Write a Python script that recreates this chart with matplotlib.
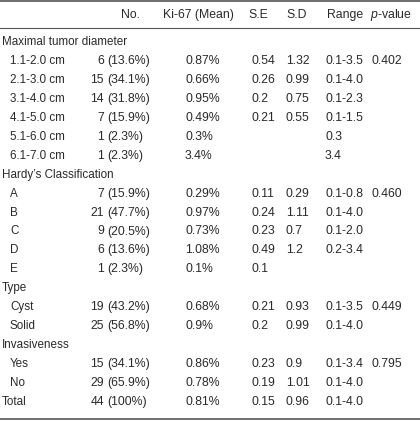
import matplotlib.pyplot as plt

# table rows
labels = ["Maximal tumor diameter", "1.1-2.0 cm", "2.1-3.0 cm", "3.1-4.0 cm", "4.1-5.0 cm",
          "5.1-6.0 cm", "6.1-7.0 cm", "Hardy\u2019s Classification", "A", "B", "C", "D", "E",
          "Type", "Cyst", "Solid", "Invasiveness", "Yes", "No", "Total"]
section = [True, False, False, False, False, False, False, True, False, False, False, False,
           False, True, False, False, True, False, False, True]
counts = ["", "6", "15", "14", "7", "1", "1", "", "7", "21", "9", "6", "1",
          "", "19", "25", "", "15", "29", "44"]
pcts = ["", "(13.6%)", "(34.1%)", "(31.8%)", "(15.9%)", "(2.3%)", "(2.3%)", "", "(15.9%)",
        "(47.7%)", "(20.5%)", "(13.6%)", "(2.3%)", "", "(43.2%)", "(56.8%)", "", "(34.1%)",
        "(65.9%)", "(100%)"]
means = ["", "0.87%", "0.66%", "0.95%", "0.49%", "0.3%", "3.4%", "", "0.29%", "0.97%", "0.73%",
         "1.08%", "0.1%", "", "0.68%", "0.9%", "", "0.86%", "0.78%", "0.81%"]
se = ["", "0.54", "0.26", "0.2", "0.21", "", "", "", "0.11", "0.24", "0.23", "0.49", "0.1",
      "", "0.21", "0.2", "", "0.23", "0.19", "0.15"]
sd = ["", "1.32", "0.99", "0.75", "0.55", "", "", "", "0.29", "1.11", "0.7", "1.2", "",
      "", "0.93", "0.99", "", "0.9", "1.01", "0.96"]
ranges = ["", "0.1-3.5", "0.1-4.0", "0.1-2.3", "0.1-1.5", "0.3", "3.4", "", "0.1-0.8", "0.1-4.0",
          "0.1-2.0", "0.2-3.4", "", "", "0.1-3.5", "0.1-4.0", "", "0.1-3.4", "0.1-4.0", "0.1-4.0"]
pvals = ["", "0.402", "", "", "", "", "", "", "0.460", "", "", "", "", "", "0.449", "", "",
         "0.795", "", ""]

plt.rcParams['font.family'] = ['Liberation Sans', 'DejaVu Sans']
plt.rcParams['mathtext.fontset'] = 'custom'
plt.rcParams['mathtext.it'] = 'Liberation Sans:italic'
plt.rcParams['mathtext.rm'] = 'Liberation Sans'
txt = "#2a2a2a"
fs = 8.8
fl = 8.4

fig = plt.figure(figsize=(4.2, 4.22), dpi=100)
ax = fig.add_axes([0, 0, 1, 1])
ax.set_xlim(0, 420)
ax.set_ylim(422, 0)
ax.axis('off')

# rules
ax.plot([0, 420], [1, 1], color="#555555", lw=1.2)
ax.plot([0, 420], [28, 28], color="#555555", lw=0.8)
ax.plot([0, 420], [419, 419], color="#555555", lw=1.2)

# header
hy = 15
ax.text(140, hy, "No.", ha='right', va='center', fontsize=fs, color=txt)
ax.text(163, hy, "Ki-67 (Mean)", ha='left', va='center', fontsize=fs, color=txt)
ax.text(248, hy, "S.E", ha='left', va='center', fontsize=fs, color=txt)
ax.text(286, hy, "S.D", ha='left', va='center', fontsize=fs, color=txt)
ax.text(327, hy, "Range", ha='left', va='center', fontsize=fs, color=txt)
ax.text(370, hy, r"$\it{p}$-value", ha='left', va='center', fontsize=fs, color=txt)

y0, dy = 42, 18.95
for i in range(len(labels)):
    y = y0 + i * dy
    x = 2 if section[i] else 10
    ax.text(x, y, labels[i], ha='left', va='center', fontsize=fl, color=txt)
    ax.text(104, y, counts[i], ha='right', va='center', fontsize=fs, color=txt)
    ax.text(107, y, pcts[i], ha='left', va='center', fontsize=fs, color=txt)
    ax.text(185, y, means[i], ha='left', va='center', fontsize=fs, color=txt)
    ax.text(252, y, se[i], ha='left', va='center', fontsize=fs, color=txt)
    ax.text(286, y, sd[i], ha='left', va='center', fontsize=fs, color=txt)
    ax.text(325, y, ranges[i], ha='left', va='center', fontsize=fs, color=txt)
    ax.text(372, y, pvals[i], ha='left', va='center', fontsize=fs, color=txt)

fig.savefig("out.png", dpi=100)
